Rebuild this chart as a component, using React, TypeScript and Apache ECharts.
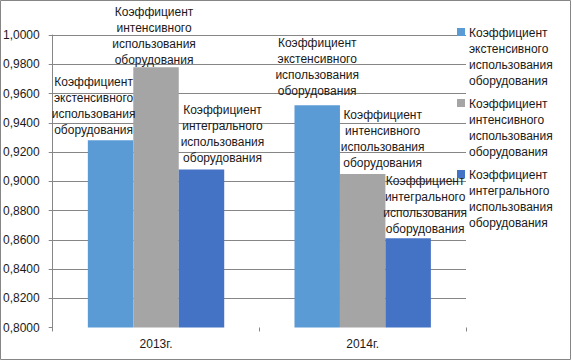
import React, { useEffect, useRef } from "react";
import * as echarts from "echarts";

const categories = ["2013г.", "2014г."];
const seriesNames = [
  "Коэффициент экстенсивного использования оборудования",
  "Коэффициент интенсивного использования оборудования",
  "Коэффициент интегрального использования оборудования",
];
const seriesLines = [
  ["Коэффициент", "экстенсивного", "использования", "оборудования"],
  ["Коэффициент", "интенсивного", "использования", "оборудования"],
  ["Коэффициент", "интегрального", "использования", "оборудования"],
];
const extensiveValues = [0.928, 0.952];
const intensiveValues = [0.978, 0.905];
const integralValues = [0.908, 0.861];
const seriesValues = [extensiveValues, intensiveValues, integralValues];
const colors = ["#5B9BD5", "#A5A5A5", "#4472C4"];
// label offsets [dx, dy] per series per category (style only)
const labelOffsets = [
  [[-17, -2], [0, -6]],
  [[-2, 1], [20, -3]],
  [[21, -4], [17, -1]],
];

const FONT = "'Liberation Sans', Arial, sans-serif";
const TEXT = "#1a1a1a";
const LINE = "#868686";

export default function App() {
  const ref = useRef<HTMLDivElement>(null);
  useEffect(() => {
    if (!ref.current) return;
    const chart = echarts.init(ref.current, undefined, { renderer: "svg" });
    const legendGraphics: any[] = [];
    seriesLines.forEach((lines, i) => {
      const c = 33 + 71 * i;
      legendGraphics.push({
        type: "rect",
        shape: { x: 457, y: c - 5, width: 8, height: 8 },
        style: { fill: colors[i] },
        z: 10,
      });
      legendGraphics.push({
        type: "text",
        x: 469,
        y: c - 8,
        style: {
          text: lines.join("\n"),
          font: `12px ${FONT}`,
          fill: TEXT,
          lineHeight: 16,
          verticalAlign: "top",
          align: "left",
        },
        z: 10,
      });
    });
    chart.setOption({
      animation: false,
      backgroundColor: "#ffffff",
      grid: { left: 51, right: 106, top: 35, bottom: 34.5, containLabel: false },
      xAxis: {
        type: "category",
        data: categories,
        axisLine: { show: false },
        axisTick: { show: true, length: 4, lineStyle: { color: LINE } },
        axisLabel: { color: TEXT, fontSize: 12, fontFamily: FONT, margin: 10 },
      },
      yAxis: {
        type: "value",
        min: 0.8,
        max: 1.0,
        interval: 0.02,
        axisLine: { show: true, lineStyle: { color: LINE } },
        axisTick: { show: true, length: 4, lineStyle: { color: LINE } },
        splitLine: { show: true, showMinLine: false, lineStyle: { color: LINE } },
        axisLabel: {
          color: TEXT,
          fontSize: 12,
          fontFamily: FONT,
          margin: 13,
          formatter: (v: number) => v.toFixed(4).replace(".", ","),
        },
      },
      series: seriesNames.map((name, i) => ({
        type: "bar",
        name,
        barGap: "0%",
        barCategoryGap: "34%",
        itemStyle: { color: colors[i] },
        label: {
          show: true,
          position: "top",
          distance: 0,
          formatter: seriesLines[i].join("\n"),
          color: TEXT,
          fontSize: 12,
          fontFamily: FONT,
          lineHeight: 16,
          align: "center",
        },
        data: seriesValues[i].map((v, j) => ({
          value: v,
          label: { offset: labelOffsets[i][j] },
        })),
      })),
      graphic: [
        {
          type: "rect",
          shape: { x: 0.5, y: 0.5, width: 570, height: 359 },
          style: { fill: "none", stroke: LINE, lineWidth: 1 },
          silent: true,
        },
        ...legendGraphics,
      ],
    });
    return () => chart.dispose();
  }, []);
  return (
    <div
      ref={ref}
      style={{ position: "fixed", left: 0, top: 0, width: 572, height: 362 }}
    />
  );
}
